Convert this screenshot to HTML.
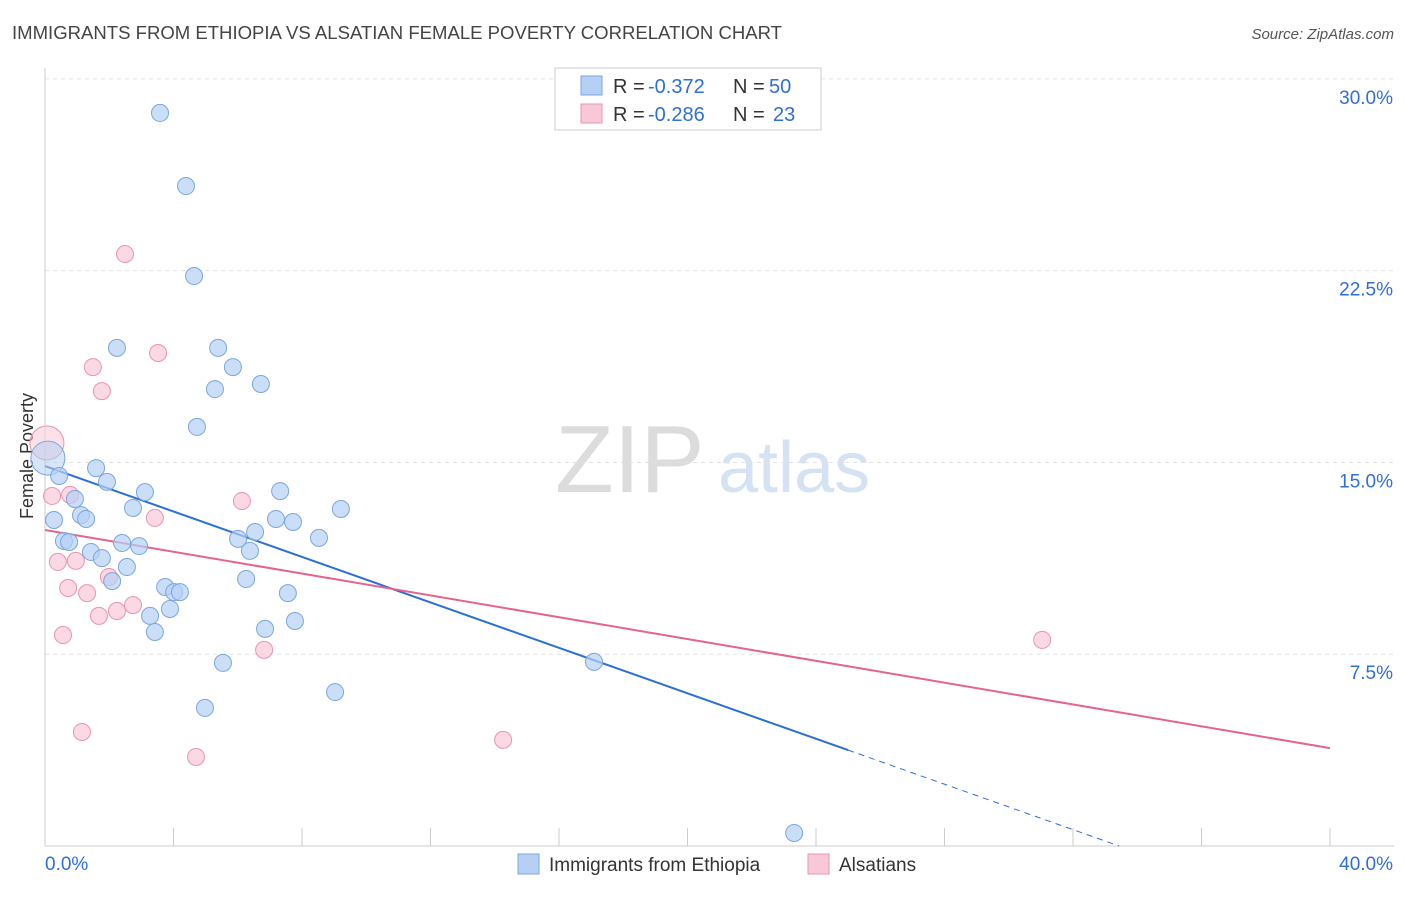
<!DOCTYPE html>
<html><head><meta charset="utf-8">
<style>
body{margin:0;background:#fff;font-family:"Liberation Sans",sans-serif;}
svg text{font-family:"Liberation Sans",sans-serif;}
</style></head>
<body>
<svg id="chart" width="1406" height="892" xmlns="http://www.w3.org/2000/svg">
<text x="12" y="39" font-size="18" fill="#444" textLength="770" lengthAdjust="spacingAndGlyphs">IMMIGRANTS FROM ETHIOPIA VS ALSATIAN FEMALE POVERTY CORRELATION CHART</text>
<text x="1394" y="39" font-size="15" fill="#555" font-style="italic" text-anchor="end">Source: ZipAtlas.com</text>
<g>
<text x="555" y="492" font-size="96" fill="#dcdcdc" font-family="Liberation Serif,serif">ZIP</text>
<text x="718" y="492" font-size="72" fill="#d4e2f4">atlas</text>
</g>
<text transform="translate(33,456) rotate(-90)" font-size="18" fill="#333" text-anchor="middle">Female Poverty</text>
<g id="grid"></g>
<g id="axes"></g>
<g id="trends"></g>
<g id="points"></g>
<g>
<rect x="555" y="68" width="266" height="62" fill="#fff" stroke="#ccc"/>
<rect x="581" y="76" width="21" height="19" fill="#b5d0f3" stroke="#7ba6df"/>
<rect x="581" y="104" width="21" height="19" fill="#f9c8d7" stroke="#e994b0"/>
<text x="613" y="93" font-size="20" fill="#333">R =</text>
<text x="648" y="93" font-size="20" fill="#2f6fd6">-0.372</text>
<text x="733" y="93" font-size="20" fill="#333">N =</text>
<text x="769" y="93" font-size="20" fill="#2f6fd6">50</text>
<text x="613" y="121" font-size="20" fill="#333">R =</text>
<text x="648" y="121" font-size="20" fill="#2f6fd6">-0.286</text>
<text x="733" y="121" font-size="20" fill="#333">N =</text>
<text x="773" y="121" font-size="20" fill="#2f6fd6">23</text>
</g>
<g>
<rect x="518" y="854" width="21" height="20" fill="#b5d0f3" stroke="#7ba6df"/>
<text x="549" y="871" font-size="19" fill="#333">Immigrants from Ethiopia</text>
<rect x="808" y="854" width="21" height="20" fill="#f9c8d7" stroke="#e994b0"/>
<text x="839" y="871" font-size="19" fill="#333">Alsatians</text>
</g>
</svg>
<script>
const yTicks=[7.5,15,22.5,30];
const yTickLabels=["7.5%","15.0%","22.5%","30.0%"];
const xTickLabels=["0.0%","40.0%"];
const blueX=[3.58,4.39,4.64,2.24,5.39,5.85,5.29,6.72,4.73,0.09,0.44,1.59,1.93,3.11,0.93,7.32,2.74,9.21,0.28,1.12,1.28,7.19,7.72,6.54,0.59,0.75,2.40,2.93,6.01,8.53,1.43,1.77,6.38,2.55,2.09,6.26,3.74,4.02,4.20,7.56,3.89,3.27,7.78,3.42,6.85,5.54,17.09,9.03,4.98,23.32];
const blueY=[28.67,25.81,22.29,19.48,19.48,18.73,17.87,18.07,16.39,15.17,14.47,14.78,14.24,13.84,13.57,13.88,13.22,13.18,12.75,12.94,12.79,12.79,12.67,12.28,11.93,11.89,11.85,11.73,12.01,12.05,11.50,11.26,11.54,10.91,10.36,10.44,10.13,9.93,9.93,9.89,9.27,9.00,8.80,8.37,8.49,7.16,7.20,6.02,5.40,0.51];
const pinkX=[2.49,3.52,1.49,1.77,0.06,0.22,0.78,6.13,3.42,0.40,0.96,0.72,1.31,1.99,2.24,2.74,1.68,0.56,6.82,31.04,1.15,14.26,4.70];
const pinkY=[23.15,19.28,18.73,17.79,15.76,13.69,13.73,13.49,12.83,11.11,11.15,10.09,9.89,10.52,9.19,9.42,9.00,8.25,7.67,8.06,4.46,4.15,3.48];
const blueTrend=[14.86,-0.4444]; // intercept, slope
const pinkTrend=[12.36,-0.2133];
const NS="http://www.w3.org/2000/svg";
const sx=v=>45+v*32.125, sy=v=>846-v*25.57;
function mk(tag,attrs,parent){const e=document.createElementNS(NS,tag);for(const k in attrs)e.setAttribute(k,attrs[k]);document.getElementById(parent).appendChild(e);return e;}
yTicks.forEach((t,i)=>{
 const g=mk('line',{x1:45,x2:1394,y1:sy(t),y2:sy(t),stroke:'#e2e2e2','stroke-dasharray':'4,4'},'grid');
 
 
 const l=mk('text',{x:1393,y:sy(t)+25,'font-size':19,fill:'#2f6fd6','text-anchor':'end'},'axes');l.textContent=yTickLabels[i];
 
 
});
mk('line',{x1:45,x2:1394,y1:846,y2:846,stroke:'#ccc'},'axes');
mk('line',{x1:45,x2:45,y1:68,y2:846,stroke:'#ccc'},'axes');
for(let i=1;i<=10;i++){const t=mk('line',{x1:sx(i*4),x2:sx(i*4),y1:828,y2:846,stroke:'#ccc'},'axes');
 
 }
const xl0=mk('text',{x:45,y:870,'font-size':19,fill:'#2f6fd6'},'axes');xl0.textContent=xTickLabels[0];


const xl1=mk('text',{x:1393,y:870,'font-size':19,fill:'#2f6fd6','text-anchor':'end'},'axes');xl1.textContent=xTickLabels[1];


function dots(X,Y,fill,stroke,name){X.forEach((x,i)=>{const big=(x<0.2);const c=mk('circle',{cx:sx(x),cy:sy(Y[i]),r:big?17:8.5,fill:fill,'fill-opacity':big?0.55:0.7,stroke:stroke,'stroke-width':1},'points');
 
 });}
dots(pinkX,pinkY,'#f9c8d7','#e994b0','alsatian-point');
dots(blueX,blueY,'#b5d0f3','#7ba6df','ethiopia-point');
const bEnd=25, bDash=-blueTrend[0]/blueTrend[1];
const bt=mk('line',{x1:sx(0),y1:sy(blueTrend[0]),x2:sx(bEnd),y2:sy(blueTrend[0]+blueTrend[1]*bEnd),stroke:'#2b6fd8','stroke-width':2},'trends');


const bd=mk('line',{x1:sx(bEnd),y1:sy(blueTrend[0]+blueTrend[1]*bEnd),x2:sx(bDash),y2:sy(blueTrend[0]+blueTrend[1]*bDash),stroke:'#2b6fd8','stroke-width':1,'stroke-dasharray':'6,5'},'trends');


const pt=mk('line',{x1:sx(0),y1:sy(pinkTrend[0]),x2:sx(40),y2:sy(pinkTrend[0]+pinkTrend[1]*40),stroke:'#e5648f','stroke-width':2},'trends');


</script>
</body></html>
